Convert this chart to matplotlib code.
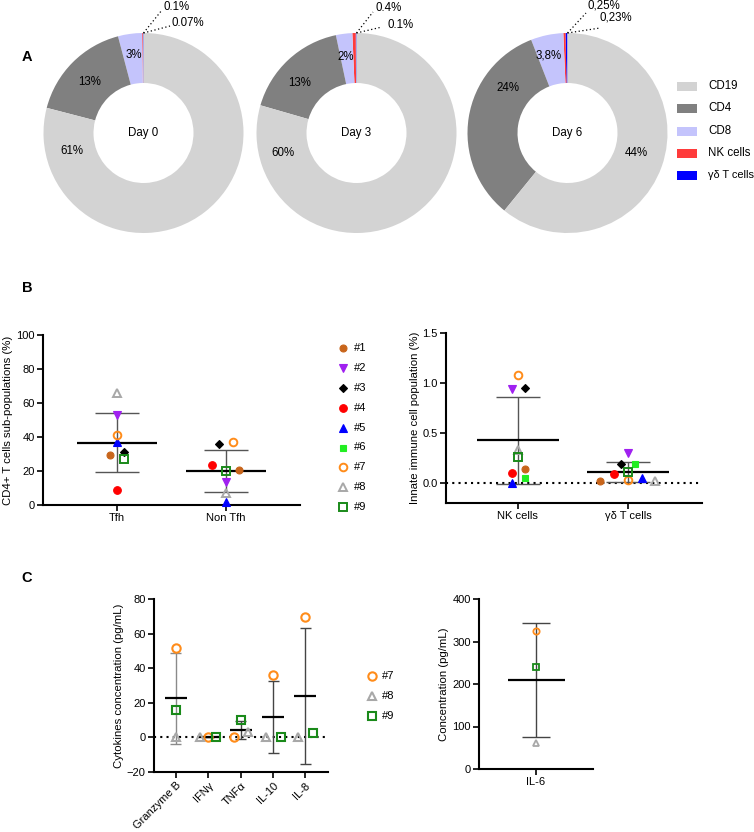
import matplotlib
matplotlib.use("Agg")
import matplotlib.pyplot as plt
import numpy as np
from matplotlib.patches import Rectangle

plt.rcParams['font.family'] = ['Liberation Sans', 'DejaVu Sans']

# ---------------- DATA ----------------
pie_days = ["Day 0", "Day 3", "Day 6"]
pie_cats = ["CD19", "CD4", "CD8", "NK cells", "γδ T cells"]
pie_vals = {
    "Day 0": [61, 13, 3, 0.1, 0.07],
    "Day 3": [60, 13, 2, 0.4, 0.1],
    "Day 6": [44, 24, 3.8, 0.25, 0.23],
}
pie_texts = {
    "Day 0": ["61%", "13%", "3%", "0.1%", "0.07%"],
    "Day 3": ["60%", "13%", "2%", "0.4%", "0.1%"],
    "Day 6": ["44%", "24%", "3,8%", "0,25%", "0,23%"],
}
pie_colors = ["#d3d3d3", "#808080", "#c4c4fc", "#ff3b3b", "#0000ff"]

donors = ["#1", "#2", "#3", "#4", "#5", "#6", "#7", "#8", "#9"]
cd4_cats = ["Tfh", "Non Tfh"]
tfh = [29.4, 52.9, 31.4, 8.8, 36.9, np.nan, 41.0, 65.7, 26.9]
non_tfh = [20.8, 13.7, 36.1, 23.5, 2.0, np.nan, 36.9, 6.9, 19.8]

innate_cats = ["NK cells", "γδ T cells"]
nk = [0.14, 0.94, 0.95, 0.10, 0.0, 0.05, 1.08, 0.33, 0.26]
gd = [0.02, 0.30, 0.19, 0.09, 0.05, 0.19, 0.03, 0.02, 0.11]

cyto_donors = ["#7", "#8", "#9"]
cyto_cats = ["Granzyme B", "IFNγ", "TNFα", "IL-10", "IL-8"]
cyto_d7 = [51.8, 0.0, 0.0, 35.9, 69.4]
cyto_d8 = [0.0, 0.0, 3.0, 0.0, 0.0]
cyto_d9 = [15.7, 0.0, 10.3, 0.0, 2.4]

il6_cats = ["IL-6"]
il6 = {"#7": 325, "#8": 62, "#9": 241}

# ---------------- STYLES / LAYOUT ----------------
W, H = 754, 832
fig = plt.figure(figsize=(W / 100, H / 100), dpi=100)

def fx(px):
    return px / W

def fy(py):
    return 1 - py / H

styles = {
    "#1": dict(marker="o", mfc="#c8651b", mec="#c8651b", ms=5.0, mew=0.8),
    "#2": dict(marker="v", mfc="#a020f0", mec="#a020f0", ms=5.5, mew=0.8),
    "#3": dict(marker="D", mfc="black", mec="black", ms=4.0, mew=0.8),
    "#4": dict(marker="o", mfc="#ff0000", mec="#ff0000", ms=5.5, mew=0.8),
    "#5": dict(marker="^", mfc="#0000ff", mec="#0000ff", ms=5.5, mew=0.8),
    "#6": dict(marker="s", mfc="#22ee22", mec="#22ee22", ms=5.0, mew=0.8),
    "#7": dict(marker="o", mfc="none", mec="#ff8c1a", ms=5.5, mew=1.4),
    "#8": dict(marker="^", mfc="none", mec="#a8a8a8", ms=6.0, mew=1.4),
    "#9": dict(marker="s", mfc="none", mec="#1a8a1a", ms=5.5, mew=1.4),
}

jit_tfh = [-0.064, 0, 0.064, 0, 0, 0, 0, 0, 0.064]
jit_non = [0.12, 0, -0.064, -0.13, 0, 0, 0.064, 0, 0]
jit_nk = [0.07, -0.055, 0.07, -0.055, -0.055, 0.07, 0, 0, 0]
jit_gd = [-0.25, 0, -0.065, -0.13, 0.125, 0.065, 0, 0.245, 0]
jit_cyto = {"#7": [0, 0, -0.22, 0, 0], "#8": [0, -0.25, 0.22, -0.22, -0.22],
            "#9": [0, 0.25, 0, 0.25, 0.25]}

TICK_FS = 8.0
LAB_FS = 8.2
PIE_FS = 8.3

def style_axes(ax):
    for s in ["top", "right"]:
        ax.spines[s].set_visible(False)
    for s in ["left", "bottom"]:
        ax.spines[s].set_linewidth(1.5)
    ax.tick_params(direction="out", length=4, width=1.2, labelsize=TICK_FS, pad=2)

def mean_sd(ax, x, vals, hw=0.37, cap=0.2, err_color="#555555"):
    v = np.array(vals, dtype=float)
    v = v[~np.isnan(v)]
    m = v.mean()
    sd = v.std(ddof=1)
    ax.vlines(x, m - sd, m + sd, color=err_color, lw=1.0, zorder=2)
    ax.hlines([m - sd, m + sd], x - cap, x + cap, color=err_color, lw=1.0, zorder=2)
    ax.hlines(m, x - hw, x + hw, color="black", lw=1.6, zorder=2)

# ---------------- PANEL A: donuts ----------------
centers = {"Day 0": (143.5, 133), "Day 3": (356.5, 133), "Day 6": (567.5, 133)}
R = 100
label_pos = {
    "Day 0": [(-0.715, -0.18), (-0.54, 0.51), (-0.10, 0.78)],
    "Day 3": [(-0.74, -0.20), (-0.57, 0.50), (-0.11, 0.76)],
    "Day 6": [(0.685, -0.20), (-0.60, 0.45), (-0.185, 0.77)],
}
small_labels = {
    "Day 0": [((163, 7), (162, 10)), ((172, 23), (170, 26))],
    "Day 3": [((376, 8), (373, 12)), ((387, 25), (382, 27))],
    "Day 6": [((587, 5), (586, 13)), ((600, 17), (600, 28))],
}

for day in pie_days:
    cx, cy = centers[day]
    ax = fig.add_axes([fx(cx - R), fy(cy + R), fx(2 * R), 2 * R / H])
    vals = pie_vals[day]
    order = [4, 3, 2, 1, 0]  # γδ, NK, CD8, CD4, CD19 counter-clockwise from top
    ax.pie([vals[i] for i in order], colors=[pie_colors[i] for i in order],
           startangle=90, counterclock=True, radius=1,
           wedgeprops=dict(width=0.5, edgecolor="none", linewidth=0))
    ax.set_xlim(-1, 1)
    ax.set_ylim(-1, 1)
    ax.set_aspect("equal")
    ax.axis("off")
    ax.text(0, 0, day, ha="center", va="center", fontsize=PIE_FS)
    txts = pie_texts[day]
    for i in range(3):
        ax.text(*label_pos[day][i], txts[i], ha="center", va="center", fontsize=PIE_FS)

ov = fig.add_axes([0, 0, 1, 1], zorder=10)
ov.set_xlim(0, W)
ov.set_ylim(H, 0)
ov.axis("off")
ov.patch.set_alpha(0)

for day in pie_days:
    cx, cy = centers[day]
    txts = pie_texts[day]
    for k, ((tx, ty), (lx, ly)) in enumerate(small_labels[day]):
        ov.plot([cx, lx], [cy - R, ly], ls=(0, (1, 2)), color="black", lw=0.9)
        ov.text(tx, ty, txts[3 + k], ha="left", va="center", fontsize=PIE_FS)

# legend A
leg_y = [86, 108, 131, 153, 175]
for i, cat in enumerate(pie_cats):
    ov.add_patch(Rectangle((677, leg_y[i] - 4.5), 20, 9, color=pie_colors[i], lw=0))
    ov.text(708, leg_y[i], cat, ha="left", va="center",
            fontsize=PIE_FS if i < 4 else 7.9)

# panel letters
for letter, (lx, ly) in {"A": (27, 57), "B": (27, 288), "C": (27, 578)}.items():
    ov.text(lx, ly, letter, ha="center", va="center", fontsize=10.5, fontweight="bold")

# ---------------- PANEL B left ----------------
axb1 = fig.add_axes([fx(43), fy(505), fx(257), 170 / H])
style_axes(axb1)
axb1.set_xlim(-0.68, 1.68)
axb1.set_ylim(0, 100)
axb1.set_yticks([0, 20, 40, 60, 80, 100])
axb1.set_xticks([0, 1])
axb1.set_xticklabels(cd4_cats)
axb1.set_ylabel("CD4+ T cells sub-populations (%)", fontsize=LAB_FS, labelpad=2)
mean_sd(axb1, 0, tfh)
mean_sd(axb1, 1, non_tfh)
for i, d in enumerate(donors):
    if not np.isnan(tfh[i]):
        axb1.plot(0 + jit_tfh[i], tfh[i], ls="none", zorder=3, clip_on=False, **styles[d])
    if not np.isnan(non_tfh[i]):
        axb1.plot(1 + jit_non[i], non_tfh[i], ls="none", zorder=3, clip_on=False, **styles[d])

# legend B
for i, d in enumerate(donors):
    yy = 348 + i * 19.9
    ov.plot(343, yy, ls="none", **styles[d])
    ov.text(354, yy, d, ha="left", va="center", fontsize=8.0)

# ---------------- PANEL B right ----------------
axb2 = fig.add_axes([fx(446), fy(503), fx(256), 170 / H])
style_axes(axb2)
axb2.set_xlim(-0.65, 1.67)
axb2.set_ylim(-0.2, 1.5)
axb2.set_yticks([0.0, 0.5, 1.0, 1.5])
axb2.set_yticklabels(["0.0", "0.5", "1.0", "1.5"])
axb2.set_xticks([0, 1])
axb2.set_xticklabels(innate_cats)
axb2.set_ylabel("Innate immune cell population (%)", fontsize=LAB_FS, labelpad=2)
axb2.axhline(0, color="black", ls=(0, (1, 2)), lw=1.5, zorder=1)
mean_sd(axb2, 0, nk, hw=0.37, cap=0.2)
mean_sd(axb2, 1, gd, hw=0.37, cap=0.2)
for i, d in enumerate(donors):
    axb2.plot(0 + jit_nk[i], nk[i], ls="none", zorder=3, clip_on=False, **styles[d])
    axb2.plot(1 + jit_gd[i], gd[i], ls="none", zorder=3, clip_on=False, **styles[d])

# ---------------- PANEL C left ----------------
axc1 = fig.add_axes([fx(154), fy(772), fx(174), 173 / H])
style_axes(axc1)
axc1.set_xlim(-0.68, 4.7)
axc1.set_ylim(-20, 80)
axc1.set_yticks([-20, 0, 20, 40, 60, 80])
axc1.set_xticks(range(len(cyto_cats)))
axc1.set_xticklabels(cyto_cats, rotation=45, ha="right", rotation_mode="anchor")
axc1.set_ylabel("Cytokines concentration (pg/mL)", fontsize=LAB_FS, labelpad=2)
axc1.axhline(0, color="black", ls=(0, (1, 2)), lw=1.5, zorder=1)
cyto_all = {"#7": cyto_d7, "#8": cyto_d8, "#9": cyto_d9}
cstyle = {d: dict(styles[d]) for d in cyto_donors}
for d in cyto_donors:
    cstyle[d]["ms"] = 6.0
    cstyle[d]["mew"] = 1.5
for j in range(len(cyto_cats)):
    vals = [cyto_all[d][j] for d in cyto_donors]
    mean_sd(axc1, j, vals, hw=0.34, cap=0.17,
            err_color="#8a8a8a" if j == 0 else "#444444")
for d in cyto_donors:
    for j in range(len(cyto_cats)):
        axc1.plot(j + jit_cyto[d][j], cyto_all[d][j], ls="none", zorder=3,
                  clip_on=False, **cstyle[d])

# legend C
for i, d in enumerate(cyto_donors):
    yy = 676 + i * 20
    ov.plot(372, yy, ls="none", **cstyle[d])
    ov.text(382, yy, d, ha="left", va="center", fontsize=8.0)

# ---------------- PANEL C right ----------------
axc2 = fig.add_axes([fx(479), fy(769), fx(114), 170 / H])
style_axes(axc2)
axc2.set_xlim(-0.68, 0.68)
axc2.set_ylim(0, 400)
axc2.set_yticks([0, 100, 200, 300, 400])
axc2.set_xticks([0])
axc2.set_xticklabels(il6_cats)
axc2.set_ylabel("Concentration (pg/mL)", fontsize=LAB_FS, labelpad=2)
mean_sd(axc2, 0, list(il6.values()), hw=0.34, cap=0.17, err_color="#444444")
for d in cyto_donors:
    st = dict(styles[d])
    st["ms"] = 4.5
    st["mew"] = 1.3
    axc2.plot(0, il6[d], ls="none", zorder=3, clip_on=False, **st)

fig.savefig("out.png", dpi=100)
